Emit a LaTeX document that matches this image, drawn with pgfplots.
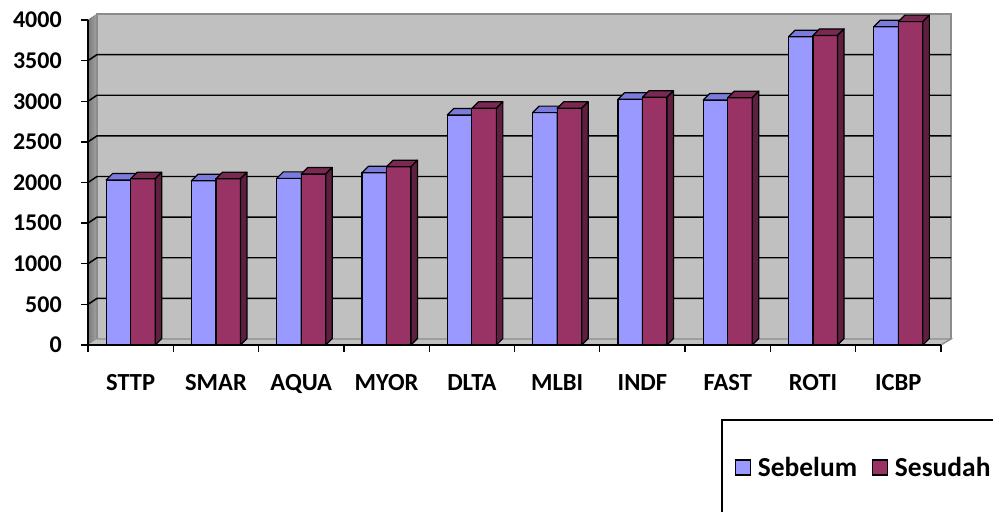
\documentclass[border=0pt]{standalone}
\usepackage{fontspec}
\setmainfont{Carlito}
\usepackage{pgfplots}
\pgfplotsset{compat=1.18}
\definecolor{blueF}{HTML}{9999FF}
\definecolor{blueT}{HTML}{7B7BDB}
\definecolor{blueS}{HTML}{5C5CB8}
\definecolor{redF}{HTML}{993366}
\definecolor{redT}{HTML}{7A2952}
\definecolor{redS}{HTML}{5E1F40}
\definecolor{wall}{HTML}{C0C0C0}
\definecolor{wallEdge}{HTML}{8C8C8C}

\newcommand\bw{18.375}
\newcommand\dd{4.875}
\newcommand\cuboid[4]{%
  \pgfmathsetmacro\h{\rawy*0.0609375}%
  \pgfmathsetmacro\xl{#1-\bw/2}%
  \pgfmathsetmacro\xr{#1+\bw/2}%
  \filldraw[fill=#2,draw=black,line width=0.9pt,line join=round] (\xl pt,-\h pt) rectangle (\xr pt,0pt);
  \filldraw[fill=#3,draw=black,line width=0.9pt,line join=round] (\xl pt,0pt) -- (\xr pt,0pt) -- (\xr pt+\dd pt,\dd pt) -- (\xl pt+\dd pt,\dd pt) -- cycle;
  \filldraw[fill=#4,draw=black,line width=0.9pt,line join=round] (\xr pt,0pt) -- (\xr pt+\dd pt,\dd pt) -- (\xr pt+\dd pt,\dd pt-\h pt) -- (\xr pt,-\h pt) -- cycle;
}

\pgfplotstableread{
x sebelum sesudah
0 2031 2046
1 2022 2046
2 2051 2105
3 2120 2194
4 2831 2913
5 2860 2913
6 3024 3048
7 3015 3044
8 3795 3810
9 3918 3980
}\datatable

\begin{document}
\begin{tikzpicture}
\useasboundingbox (0,0) rectangle (744.75pt,383.25pt);
% 3D walls in pixel coordinates
\begin{scope}[x=0.75pt,y=-0.75pt,yshift=383.25pt]
  \fill[left color=black!52, right color=black!36] (88,345) -- (88,20) -- (97,14) -- (97,339) -- cycle;
  \fill[wall] (97,14) rectangle (951,339);
  \draw[wallEdge,line width=1.3pt] (97,339) -- (97,14) -- (951,14) -- (951,339);
  \fill[wall] (88,345) -- (941,345) -- (951,339) -- (97,339) -- cycle;
  \draw[wallEdge,line width=1pt] (97,339) -- (951,339) -- (941,345);
  \foreach \k in {1,...,7}{
    \pgfmathsetmacro\yy{345-40.625*\k}
    \draw[black,line width=1.1pt] (88,\yy) -- (97,\yy-6) -- (951,\yy-6);
  }
\end{scope}
\begin{axis}[
  at={(66pt,124.5pt)}, anchor=south west,
  scale only axis, width=639.75pt, height=243.75pt,
  xmin=-0.5, xmax=9.5, ymin=0, ymax=4000,
  clip=false,
  axis x line*=bottom, axis y line*=left,
  axis line style={line width=1pt, black},
  tick align=outside,
  major tick length=5.25pt,
  tick style={line width=1pt, black},
  xtick={-0.5,0.5,...,9.5}, xticklabels={},
  extra x ticks={0,1,2,3,4,5,6,7,8,9},
  extra x tick labels={STTP,SMAR,AQUA,MYOR,DLTA,MLBI,INDF,FAST,ROTI,ICBP},
  extra x tick style={major tick length=0pt},
  xticklabel style={anchor=base, inner sep=0pt, yshift=-34pt, font=\bfseries\fontsize{18.4}{20}\selectfont},
  ytick={0,500,...,4000},
  scaled y ticks=false,
  /pgf/number format/assume math mode=true,
  /pgf/number format/1000 sep={},
  yticklabel style={anchor=east, inner sep=0pt, xshift=-14.25pt, font=\bfseries\fontsize{18}{20}\selectfont},
  legend columns=2,
  legend style={at={(0.7585,-0.3769)}, anchor=west, draw=none, fill=none, inner sep=0pt, outer sep=0pt,
    nodes={inner sep=0pt, font=\bfseries\fontsize{20.6}{22}\selectfont},
    /tikz/every odd column/.append style={column sep=4.9pt},
    /tikz/every even column/.append style={column sep=11.25pt}},
]
\addplot[scatter, only marks, mark=*, mark size=0.1pt, mark options={draw=none,fill=none},
  visualization depends on={rawy \as \rawy},
  scatter/@pre marker code/.code={\cuboid{-9.1875}{blueF}{blueT}{blueS}},
  scatter/@post marker code/.code={},
  legend image code/.code={\filldraw[fill=blueF,draw=black,line width=1pt] (0pt,-5.6pt) rectangle (11.25pt,5.6pt);}]
  table[x=x,y=sebelum]{\datatable};
\addlegendentry{Sebelum}
\addplot[scatter, only marks, mark=*, mark size=0.1pt, mark options={draw=none,fill=none},
  visualization depends on={rawy \as \rawy},
  scatter/@pre marker code/.code={\cuboid{9.1875}{redF}{redT}{redS}},
  scatter/@post marker code/.code={},
  legend image code/.code={\filldraw[fill=redF,draw=black,line width=1pt] (0pt,-5.6pt) rectangle (11.25pt,5.6pt);}]
  table[x=x,y=sesudah]{\datatable};
\addlegendentry{Sesudah}
\end{axis}
\begin{scope}[x=0.75pt,y=-0.75pt,yshift=383.25pt]
  \draw[black,line width=1.5pt] (722,420) rectangle (1010,540);
\end{scope}
\end{tikzpicture}
\end{document}
